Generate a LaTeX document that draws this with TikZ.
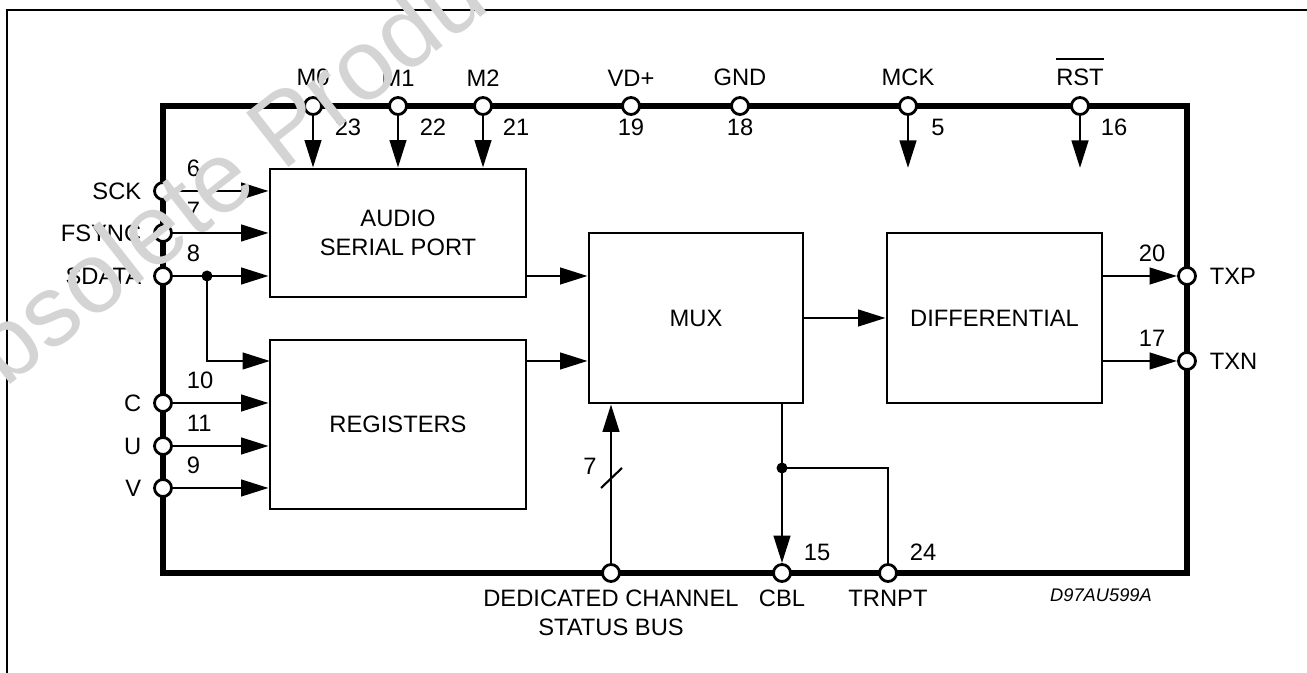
\documentclass[tikz,border=0pt]{standalone}
\usepackage{fontspec}
\setmainfont{Liberation Sans}
\usetikzlibrary{arrows.meta,calc,positioning}
\definecolor{ink}{HTML}{000000}
\definecolor{wmgray}{HTML}{D4D4D4}

\begin{document}
\begin{tikzpicture}[
    font=\fontsize{13.5}{16.6}\selectfont,
    frameline/.style={draw=ink, line width=1.4pt},
    chipline/.style={draw=ink, line width=3.4pt, inner sep=0pt},
    block/.style={draw=ink, line width=1.6pt, fill=white, align=center, inner sep=0pt},
    sig/.style={draw=ink, line width=1.6pt},
    sigarrow/.style={sig, -{Triangle[length=0.55cm, width=0.33cm]}},
    pin/.style={circle, draw=ink, fill=white, line width=1.6pt, minimum size=0.34cm, inner sep=0pt},
    dot/.style={circle, fill=ink, minimum size=0.22cm, inner sep=0pt},
    pinlabel/.style={inner sep=0pt},
    pinnum/.style={inner sep=0pt},
    code/.style={font=\fontsize{10.4}{12}\selectfont\itshape, inner sep=0pt},
    wm/.style={font=\fontsize{57}{60}\selectfont, text=wmgray, inner sep=0pt}
]

\useasboundingbox (0,0) rectangle (26.14,13.46);

% Page frame.
\draw[frameline] (0.14,0) -- (0.14,13.26) -- (26.14,13.26);

% Chip outline.
\node[chipline, minimum width=20.48cm, minimum height=9.34cm] (chip) at (13.50,6.67) {};

% Blocks.
\node[block, minimum width=5.12cm, minimum height=2.56cm] (audio) at (7.96,8.80) {AUDIO\\SERIAL PORT};
\node[block, minimum width=5.12cm, minimum height=3.38cm] (regs) at (7.96,4.97) {REGISTERS};
\node[block, minimum width=4.28cm, minimum height=3.40cm] (mux) at (13.92,7.10) {MUX};
\node[block, minimum width=4.30cm, minimum height=3.40cm] (diff) at (19.89,7.10) {DIFFERENTIAL};

% Top pins.
\foreach \nm/\x/\lab in {m0/6.26/M0, m1/7.96/M1, m2/9.66/M2, vdd/12.62/VD+, gnd/14.80/GND, mck/18.16/MCK, rst/21.60/RST} {
    \node[pin] (\nm) at (\x,11.34) {};
    \node[pinlabel, above=0.19cm of \nm] (\nm lab) {\lab};
}
\draw[line width=0.9pt] ($(rstlab.north west)+(0,0.2)$) -- ($(rstlab.north east)+(0,0.2)$);

\foreach \nm/\dx/\num in {m0/0.70/23, m1/0.70/22, m2/0.66/21, vdd/0/19, gnd/0/18, mck/0.60/5, rst/0.68/16} {
    \node[pinnum] at ($(\nm)+(\dx,-0.42)$) {\num};
}

% Left pins.
\foreach \nm/\y/\lab/\num in {sck/9.64/SCK/6, fsync/8.80/FSYNC/7, sdata/7.94/SDATA/8, cin/5.40/C/10, uin/4.54/U/11, vin/3.70/V/9} {
    \node[pin] (\nm) at (3.26,\y) {};
    \node[pinlabel, left=0.23cm of \nm] {\lab};
    \node[pinnum, anchor=west] at ($(\nm)+(0.47,0.46)$) {\num};
}

% Right pins.
\foreach \nm/\y/\lab/\num in {txp/7.94/TXP/20, txn/6.24/TXN/17} {
    \node[pin] (\nm) at (23.74,\y) {};
    \node[pinlabel, right=0.25cm of \nm] {\lab};
    \node[pinnum] at ($(\nm)+(-0.70,0.46)$) {\num};
}

% Bottom pins.
\node[pin] (dcs) at (12.22,2.00) {};
\node[pin] (cbl) at (15.64,2.00) {};
\node[pin] (trnpt) at (17.76,2.00) {};
\node[pinlabel, below=0.14cm of dcs, align=center] {DEDICATED CHANNEL\\STATUS BUS};
\node[pinlabel, below=0.14cm of cbl] {CBL};
\node[pinlabel, below=0.14cm of trnpt] {TRNPT};
\node[pinnum] at ($(cbl)+(0.70,0.42)$) {15};
\node[pinnum] at ($(trnpt)+(0.70,0.42)$) {24};

% Mode pins into the serial port, clocks into the chip.
\foreach \nm in {m0,m1,m2} {
    \draw[sigarrow] (\nm) -- (\nm |- audio.north);
}
\coordinate (mckend) at (18.16,10.10);
\coordinate (rstend) at (21.60,10.10);
\draw[sigarrow] (mck) -- (mckend);
\draw[sigarrow] (rst) -- (rstend);

% Serial inputs.
\draw[sigarrow] (sck) -- (sck -| audio.west);
\draw[sigarrow] (fsync) -- (fsync -| audio.west);
\draw[sigarrow] (sdata) -- (sdata -| audio.west);
\node[dot] (sdj) at (4.14,7.94) {};
\coordinate (regtop) at (5.40,6.24);
\draw[sigarrow] (sdj.center) |- (regtop);

% C, U, V into registers.
\foreach \nm in {cin,uin,vin} {
    \draw[sigarrow] (\nm) -- (\nm -| regs.west);
}

% Data path.
\draw[sigarrow] (audio.east |- sdj) -- (mux.west |- sdj);
\draw[sigarrow] (regs.east |- regtop) -- (mux.west |- regtop);
\draw[sigarrow] (mux.east) -- (diff.west);
\draw[sigarrow] (diff.east |- txp) -- (txp);
\draw[sigarrow] (diff.east |- txn) -- (txn);

% Channel status bus (7 bits).
\draw[sigarrow] (dcs) -- (dcs |- mux.south);
\draw[line width=1.2pt] ($(dcs)+(-0.20,1.70)$) -- ($(dcs)+(0.22,2.10)$);
\node[pinnum] at ($(dcs)+(-0.42,2.14)$) {7};

% CBL and TRNPT.
\node[dot] (cblj) at (15.64,4.10) {};
\draw[sig] (mux.south -| cblj) -- (cblj.center);
\draw[sigarrow] (cblj.center) -- (cbl);
\draw[sig] (cblj.center) -| (trnpt);

\node[code] (dwg) at (22.02,1.56) {D97AU599A};

% Watermark.
\begin{scope}
    \clip (0,0) rectangle (26.14,13.46);
    \node[wm, rotate=38, anchor=base west] (wmark) at (-1.12,4.73) {Obsolete Product(s)};
\end{scope}

\end{tikzpicture}
\end{document}
